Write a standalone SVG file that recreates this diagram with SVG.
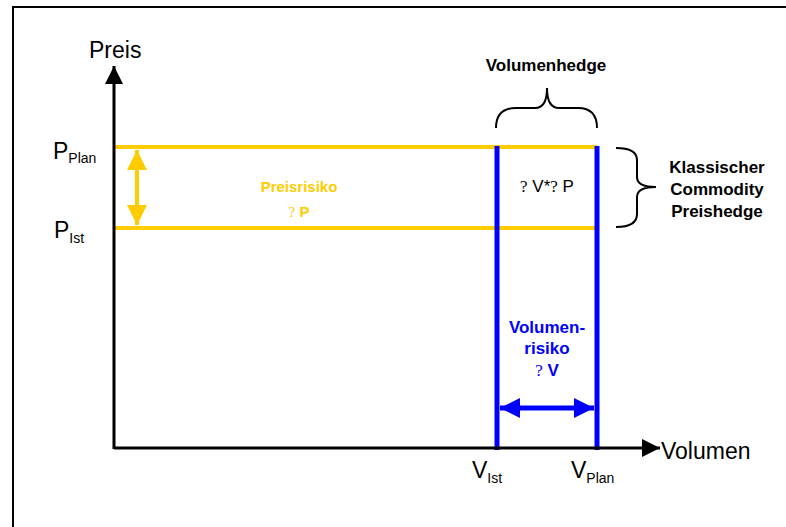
<svg xmlns="http://www.w3.org/2000/svg" width="786" height="527" viewBox="0 0 786 527">
<defs>
<style>
.t{font-family:"Liberation Sans",Arial,sans-serif}
.big{font-size:23px}
.sub{font-size:14px}
.b{font-weight:bold;font-size:17px}
.b15{font-weight:bold;font-size:15px}
.axis{stroke:#000;stroke-width:3;fill:none}
.yl{stroke:#FFCC00;stroke-width:4;fill:none}
.bl{stroke:#0000FF;stroke-width:5;fill:none}
.br{stroke:#000;stroke-width:2;fill:none}
</style>
<marker id="ah" viewBox="0 0 10 10" refX="10" refY="5" markerWidth="6" markerHeight="6" markerUnits="strokeWidth" orient="auto"><path d="M0,0L10,5L0,10z" fill="#000"/></marker>
<marker id="ay" viewBox="0 0 10 10" refX="10" refY="5" markerWidth="5" markerHeight="5.5" markerUnits="strokeWidth" orient="auto-start-reverse"><path d="M0,0L10,5L0,10z" fill="#FFCC00"/></marker>
<marker id="ab" viewBox="0 0 10 10" refX="10" refY="5" markerWidth="4" markerHeight="4.4" markerUnits="strokeWidth" orient="auto-start-reverse"><path d="M0,0L10,5L0,10z" fill="#0000FF"/></marker>
</defs>
<rect width="786" height="527" fill="#fff"/>
<path d="M13,540V7H800" stroke="#000" stroke-width="2" fill="none"/>
<g id="connectors">
<line class="yl" x1="114" y1="147" x2="597" y2="147"/>
<line class="yl" x1="114" y1="228" x2="597" y2="228"/>
<line class="yl" x1="137" y1="150" x2="137" y2="225" stroke-width="3" marker-start="url(#ay)" marker-end="url(#ay)"/>
<line class="bl" x1="497" y1="146" x2="497" y2="450"/>
<line class="bl" x1="597" y1="146" x2="597" y2="450"/>
<line class="bl" x1="500" y1="408" x2="594" y2="408" stroke-width="4" marker-start="url(#ab)" marker-end="url(#ab)"/>
<line class="axis" x1="114" y1="449" x2="114" y2="66" marker-end="url(#ah)"/>
<line class="axis" x1="114" y1="448" x2="660" y2="448" marker-end="url(#ah)"/>
<path class="br" d="M496,128Q496,108 516,108H535Q547,108 547,88Q547,108 559,108H578Q597,108 597,128"/>
<path class="br" d="M616,148Q637,148 637,160V177Q637,187 656,187Q637,187 637,197V214Q637,227 616,227"/>
</g>
<g id="labels-axes">
<text class="t big" x="89" y="58">Preis</text>
<text class="t big" x="661" y="459">Volumen</text>
</g>
<g id="pplan"><text class="t big" x="53" y="159">P<tspan class="sub" dy="4">Plan</tspan></text></g>
<g id="pist"><text class="t big" x="54" y="238">P<tspan class="sub" dy="5">Ist</tspan></text></g>
<g id="vist"><text class="t big" x="472" y="478">V<tspan class="sub" dy="5">Ist</tspan></text></g>
<g id="vplan"><text class="t big" x="571" y="478">V<tspan class="sub" dy="5">Plan</tspan></text></g>
<g id="preisrisiko" fill="#FFCC00" text-anchor="middle">
<text class="t b15" x="299" y="192">Preisrisiko</text>
<text class="t b15" x="299" y="217"><tspan font-weight="normal" font-family="Liberation Serif">?</tspan> P</text>
</g>
<g id="vp"><text class="t" font-size="17" x="547" y="192" text-anchor="middle"><tspan font-family="Liberation Serif">?</tspan> V*<tspan font-family="Liberation Serif">?</tspan> P</text></g>
<g id="volumenhedge"><text class="t b" x="546" y="71" text-anchor="middle">Volumenhedge</text></g>
<g id="preishedge" text-anchor="middle">
<text class="t b" x="717" y="173">Klassischer</text>
<text class="t b" x="717" y="195">Commodity</text>
<text class="t b" x="717" y="217">Preishedge</text>
</g>
<g id="volumenrisiko" fill="#0000FF" text-anchor="middle">
<text class="t b" x="547" y="333">Volumen-</text>
<text class="t b" x="547" y="354">risiko</text>
<text class="t b" x="547" y="376"><tspan font-weight="normal" font-family="Liberation Serif">?</tspan> V</text>
</g>
</svg>
